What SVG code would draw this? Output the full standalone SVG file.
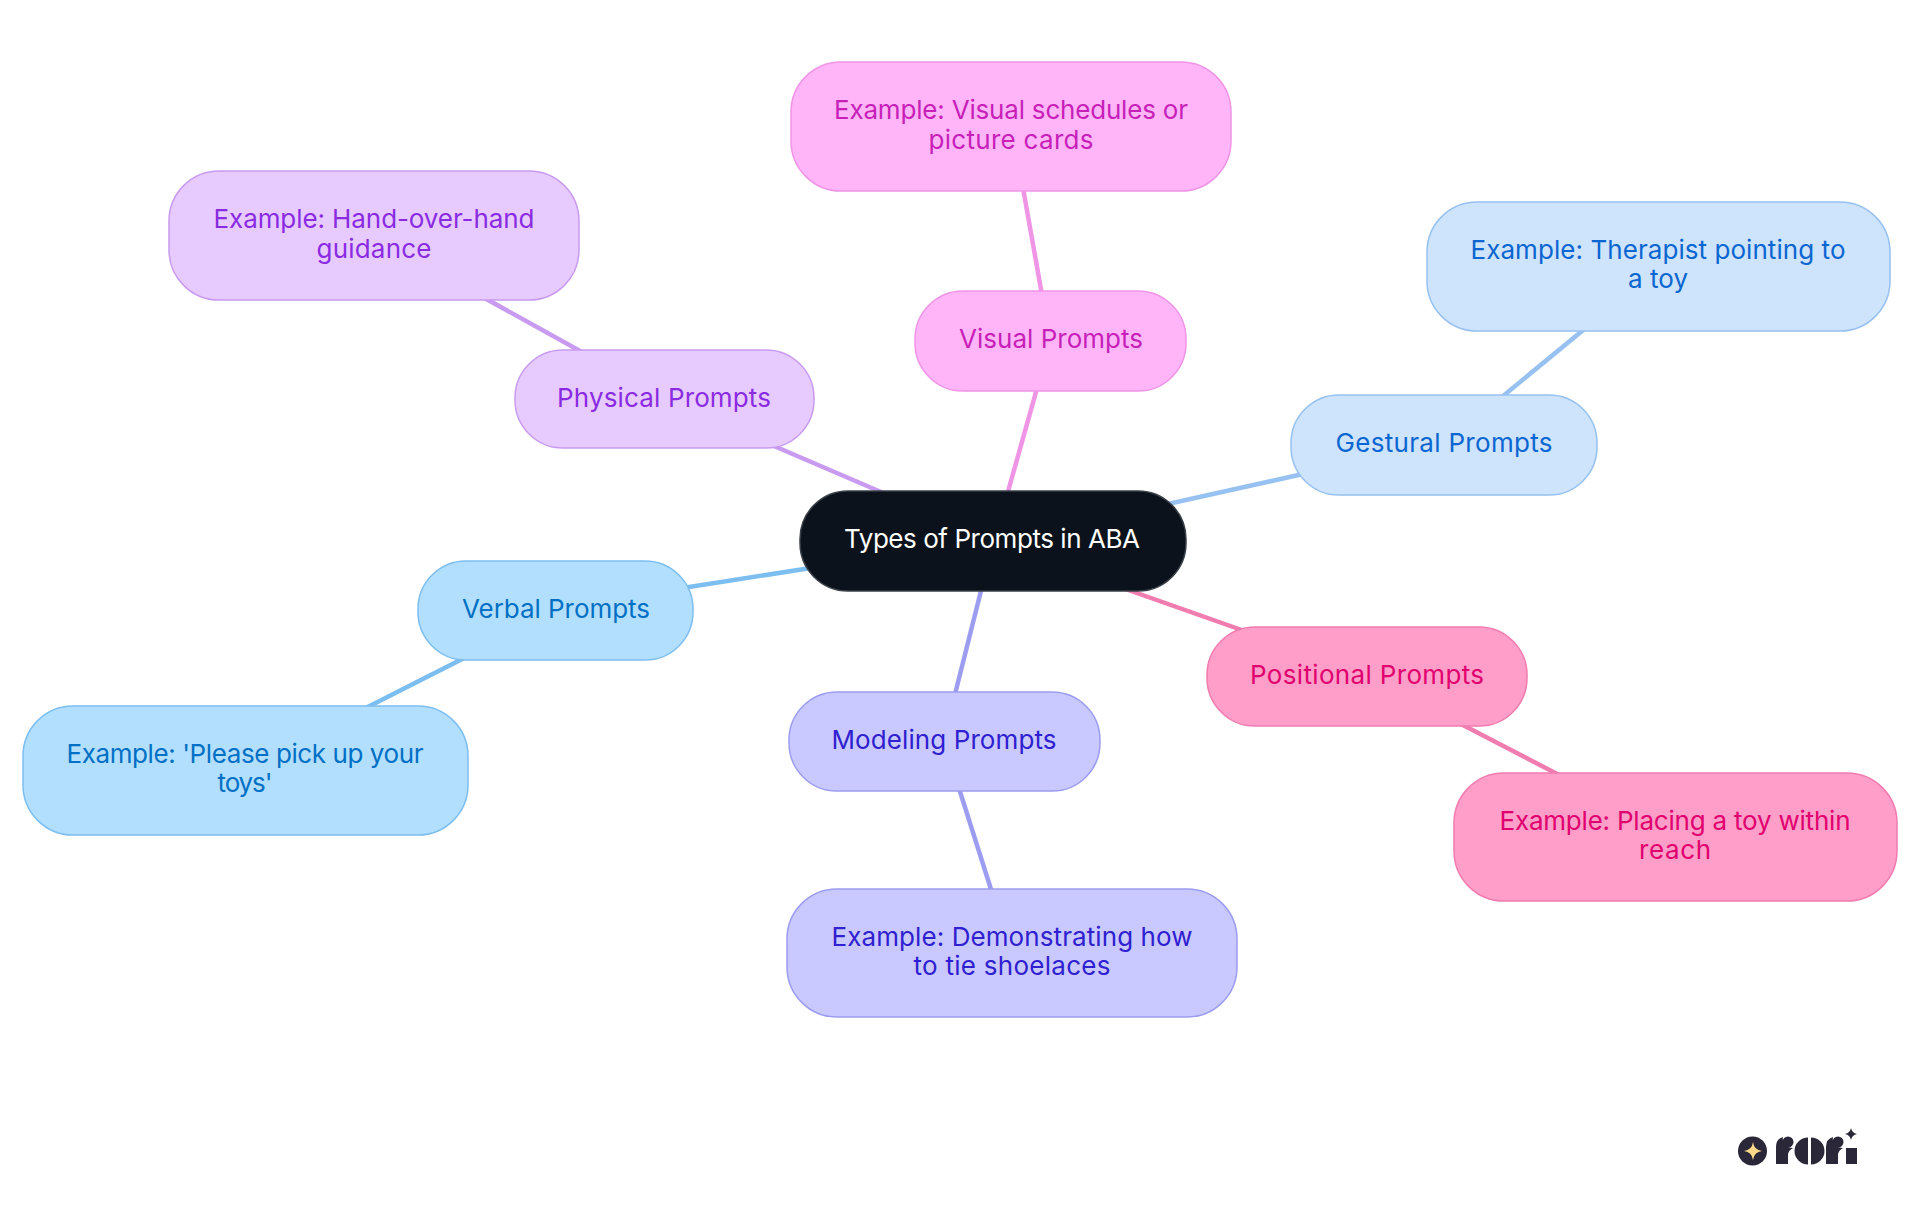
<svg xmlns="http://www.w3.org/2000/svg" width="1920" height="1215" viewBox="0 0 1920 1215">
<style>
text{font-family:Inter,"Noto Sans","Liberation Sans",sans-serif;font-size:26px;text-anchor:middle}
rect{stroke-width:1.5}
#connectors line{stroke-width:4.5}
.sky rect{fill:#b3dfff;stroke:#7cbef0}.sky text{fill:#0070c4}
.lav rect{fill:#e7cbff;stroke:#c99bf0}.lav text{fill:#8a2be2}
.pink rect{fill:#ffb5f8;stroke:#f094e6}.pink text{fill:#c71fb8}
.blue rect{fill:#cee3fc;stroke:#97c1f0}.blue text{fill:#0a66d0}
.rose rect{fill:#ff9ec9;stroke:#f07cb0}.rose text{fill:#e0006e}
.ind rect{fill:#c9c9ff;stroke:#9c9cf0}.ind text{fill:#2f20d0}
#logo *{fill:#2a2838}
#logo .s{fill:#fcd98a}
</style>
<rect width="1920" height="1215" fill="#fff" style="stroke:none"/>
<g id="connectors">
<line x1="830" y1="565" x2="670" y2="590" stroke="#7cbef0"/>
<line x1="478" y1="651" x2="350" y2="716" stroke="#7cbef0"/>
<line x1="895" y1="498" x2="760" y2="440" stroke="#c99bf0"/>
<line x1="600" y1="362" x2="470" y2="290" stroke="#c99bf0"/>
<line x1="1000" y1="520" x2="1045" y2="360" stroke="#f094e6"/>
<line x1="1050" y1="340" x2="1018" y2="160" stroke="#f094e6"/>
<line x1="1150" y1="508" x2="1330" y2="468" stroke="#97c1f0"/>
<line x1="1480" y1="415" x2="1610" y2="308" stroke="#97c1f0"/>
<line x1="1100" y1="580" x2="1270" y2="640" stroke="#f07cb0"/>
<line x1="1430" y1="708" x2="1590" y2="791" stroke="#f07cb0"/>
<line x1="990" y1="555" x2="946" y2="730" stroke="#9c9cf0"/>
<line x1="950" y1="760" x2="1002" y2="924" stroke="#9c9cf0"/>
</g>
<g id="root"><rect x="800" y="491" width="386" height="100" rx="48" fill="#0b121b" stroke="#3a4048"/><text x="992" y="548" fill="#fff" textLength="296">Types of Prompts in ABA</text></g>
<g id="verbal" class="sky"><rect x="418" y="561" width="275" height="99" rx="48"/><text x="556" y="618" textLength="188">Verbal Prompts</text></g>
<g id="verbal-ex" class="sky"><rect x="23" y="706" width="445" height="129" rx="50"/><text x="245" y="763" textLength="357">Example: 'Please pick up your</text><text x="245" y="792" textLength="55">toys'</text></g>
<g id="physical" class="lav"><rect x="515" y="350" width="299" height="98" rx="48"/><text x="664" y="407" textLength="214">Physical Prompts</text></g>
<g id="physical-ex" class="lav"><rect x="169" y="171" width="410" height="129" rx="50"/><text x="374" y="228" textLength="321">Example: Hand-over-hand</text><text x="374" y="258" textLength="115">guidance</text></g>
<g id="visual" class="pink"><rect x="915" y="291" width="271" height="100" rx="48"/><text x="1051" y="348" textLength="184">Visual Prompts</text></g>
<g id="visual-ex" class="pink"><rect x="791" y="62" width="440" height="129" rx="50"/><text x="1011" y="119" textLength="354">Example: Visual schedules or</text><text x="1011" y="149" textLength="165">picture cards</text></g>
<g id="gestural" class="blue"><rect x="1291" y="395" width="306" height="100" rx="48"/><text x="1444" y="452" textLength="217">Gestural Prompts</text></g>
<g id="gestural-ex" class="blue"><rect x="1427" y="202" width="463" height="129" rx="50"/><text x="1658" y="259" textLength="375">Example: Therapist pointing to</text><text x="1658" y="288" textLength="60">a toy</text></g>
<g id="positional" class="rose"><rect x="1207" y="627" width="320" height="99" rx="48"/><text x="1367" y="684" textLength="234">Positional Prompts</text></g>
<g id="positional-ex" class="rose"><rect x="1454" y="773" width="443" height="128" rx="50"/><text x="1675" y="830" textLength="351">Example: Placing a toy within</text><text x="1675" y="859" textLength="72">reach</text></g>
<g id="modeling" class="ind"><rect x="789" y="692" width="311" height="99" rx="48"/><text x="944" y="749" textLength="225">Modeling Prompts</text></g>
<g id="modeling-ex" class="ind"><rect x="787" y="889" width="450" height="128" rx="50"/><text x="1012" y="946" textLength="361">Example: Demonstrating how</text><text x="1012" y="975" textLength="197">to tie shoelaces</text></g>
<g id="logo">
<circle cx="1752.500" cy="1151" r="14.500"/>
<path class="s" d="M1753 1142q1 8 9 9q-8 1-9 9q-1-8-9-9q8-1 9-9z"/>
<path d="M1776 1164v-17q0-8 7-10q-1 5 2 8q3 3 8 3q-4 2-5 6v10z"/>
<circle cx="1788" cy="1142" r="5.500"/>
<path d="M1808 1137.500a13.500 13.500 0 0 0 0 27zM1811 1137.500a13.500 13.500 0 0 1 0 27z"/>
<path d="M1826 1164v-17q0-8 7-10q-1 5 2 8q3 3 8 3q-4 2-5 6v10z"/>
<circle cx="1838" cy="1142" r="5.500"/>
<path d="M1846 1148h11v16h-11z"/>
<path d="M1851 1128q1 5 6 6q-5 1-6 6q-1-5-6-6q5-1 6-6z"/>
</g>
</svg>
